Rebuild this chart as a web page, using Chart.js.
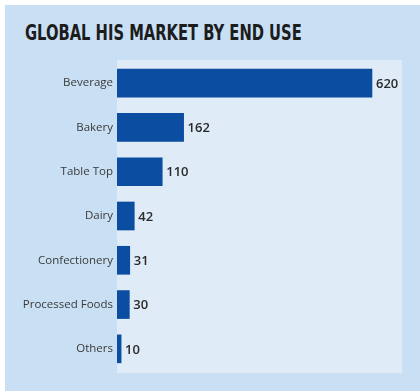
<!DOCTYPE html>
<html>
<head>
<meta charset="utf-8">
<script src="https://cdn.jsdelivr.net/npm/chart.js@4"></script>
<style>
  html, body { margin: 0; padding: 0; background: #ffffff; }
  #wrap { position: relative; width: 420px; height: 391px; overflow: hidden; }
  #bg { position: absolute; left: 5px; top: 5px; width: 415px; height: 386px; background: #c9dff3; }
  #title {
    position: absolute; left: 25px; top: 21px;
    font-family: "DejaVu Sans Condensed", "DejaVu Sans", sans-serif;
    font-weight: bold; font-size: 21px; color: #1c1c1c;
    white-space: nowrap;
    transform: scaleX(0.78); transform-origin: left top;
  }
  #myChart { position: absolute; left: 0; top: 0; }
</style>
</head>
<body>
<div id="wrap">
  <div id="bg"></div>
  <div id="title">GLOBAL HIS MARKET BY END USE</div>
  <canvas id="myChart" width="420" height="391"></canvas>
</div>
<script>
// Usos finales y sus valores
const categories = ['Beverage', 'Bakery', 'Table Top', 'Dairy', 'Confectionery', 'Processed Foods', 'Others'];
const values = [620, 162, 110, 42, 31, 30, 10];

const ctx = document.getElementById('myChart');

// Fondo claro detras de las barras
const panelBg = {
  id: 'panelBg',
  beforeDraw(chart) {
    const { ctx, chartArea } = chart;
    ctx.save();
    ctx.fillStyle = '#dfebf7';
    ctx.fillRect(chartArea.left, chartArea.top - 1, chartArea.right - chartArea.left, chartArea.bottom - chartArea.top + 3);
    ctx.restore();
  }
};

// Etiquetas de valor al final de cada barra
const valueLabels = {
  id: 'valueLabels',
  afterDatasetsDraw(chart) {
    const { ctx } = chart;
    const meta = chart.getDatasetMeta(0);
    ctx.save();
    ctx.font = '600 13px "Open Sans", sans-serif';
    ctx.fillStyle = '#2a2a2a';
    ctx.textAlign = 'left';
    ctx.textBaseline = 'middle';
    meta.data.forEach((bar, i) => {
      ctx.fillText(values[i], bar.x + 4, bar.y + 1);
    });
    ctx.restore();
  }
};

new Chart(ctx, {
  type: 'bar',
  data: {
    labels: categories,
    datasets: [{
      data: values,
      backgroundColor: '#0b4da1',
      barThickness: 28
    }]
  },
  options: {
    indexAxis: 'y',
    responsive: false,
    animation: false,
    layout: { padding: { top: 61, right: 18, bottom: 20, left: 0 } },
    plugins: {
      legend: { display: false },
      tooltip: { enabled: false }
    },
    scales: {
      x: {
        display: false,
        min: 0,
        max: 693
      },
      y: {
        grid: { display: false, drawTicks: false },
        border: { display: false },
        ticks: {
          padding: 4,
          color: '#3a3a3a',
          font: { family: '"Open Sans", sans-serif', size: 11.5 }
        },
        afterFit(scale) {
          scale.width = 117;
        }
      }
    }
  },
  plugins: [panelBg, valueLabels]
});
</script>
</body>
</html>
